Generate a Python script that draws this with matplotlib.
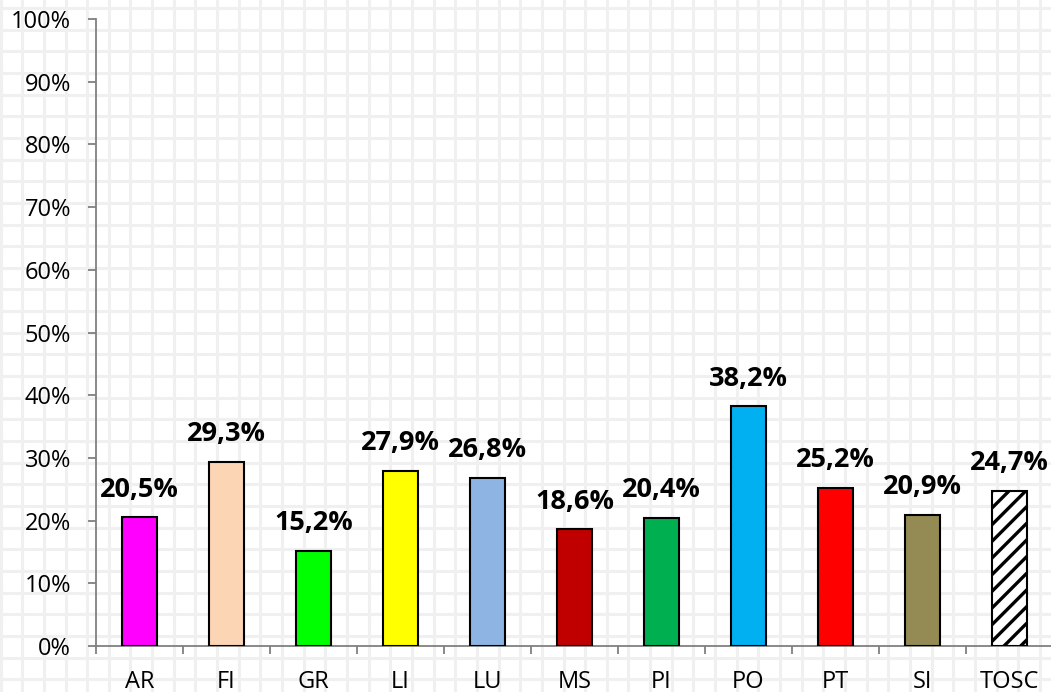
import numpy as np
import matplotlib
matplotlib.use("Agg")
import matplotlib.pyplot as plt
from matplotlib.ticker import FixedLocator

# ──────────────────────────────────────────────
# Data
# ──────────────────────────────────────────────
categories = ["AR", "FI", "GR", "LI", "LU", "MS", "PI", "PO", "PT", "SI", "TOSC"]
values = [20.5, 29.3, 15.2, 27.9, 26.8, 18.6, 20.4, 38.2, 25.2, 20.9, 24.7]
colors = ["#ff00ff", "#fcd5b5", "#00ff00", "#ffff00", "#8db4e2", "#c00000",
          "#00b050", "#00b0f0", "#ff0000", "#948a54", "#ffffff"]
y_ticks = list(range(0, 101, 10))

plt.rcParams["font.family"] = ["Open Sans", "DejaVu Sans"]
plt.rcParams["hatch.linewidth"] = 2.4

W, H = 1051, 692
fig = plt.figure(figsize=(W / 100, H / 100), dpi=100)
fig.patch.set_facecolor("white")

# ── sheet gridlines behind the chart ──────────────
bg = fig.add_axes([0, 0, 1, 1], zorder=0)
bg.set_xlim(0, W)
bg.set_ylim(H, 0)
bg.axis("off")
step = 21.65
for gx in np.arange(0.6, W, step):
    bg.axvline(gx, color="#f0f0f0", lw=2.2)
for gy in np.arange(8, H, step):
    bg.axhline(gy, color="#f0f0f0", lw=2.2)

# ── chart axes ───────────────────────────────────
left, right, top, bottom = 96, 96 + 11 * 87, 19, 646
ax = fig.add_axes([left / W, (H - bottom) / H, (right - left) / W, (bottom - top) / H],
                  zorder=1)
ax.patch.set_alpha(0)

x = np.arange(len(categories))
bars = ax.bar(x, values, width=0.4, color=colors, edgecolor="black", linewidth=1.5,
              zorder=3)
bars[-1].set_hatch("//")

for xi, v in zip(x, values):
    ax.annotate(f"{v:.1f}%".replace(".", ","), xy=(xi, v), xytext=(0, 15),
                textcoords="offset points", ha="center", va="baseline",
                fontsize=19.5, fontweight="bold", color="black")

ax.set_xlim(-0.5, len(categories) - 0.5)
ax.set_ylim(0, 100)
ax.set_yticks(y_ticks)
ax.set_yticklabels([f"{t}%" for t in y_ticks])
ax.set_xticks(x)
ax.set_xticklabels(categories)
ax.xaxis.set_minor_locator(FixedLocator(np.arange(-0.5, len(categories), 1.0)))

ax.tick_params(axis="y", length=6, width=1.3, color="#808080", pad=12,
               labelsize=17, labelcolor="black")
ax.tick_params(axis="x", which="major", length=0, pad=17, labelsize=17,
               labelcolor="black")
ax.tick_params(axis="x", which="minor", length=6, width=1.3, color="#808080")

for side in ("top", "right"):
    ax.spines[side].set_visible(False)
for side in ("left", "bottom"):
    ax.spines[side].set_color("#808080")
    ax.spines[side].set_linewidth(1.3)

fig.savefig("out.png", dpi=100)
